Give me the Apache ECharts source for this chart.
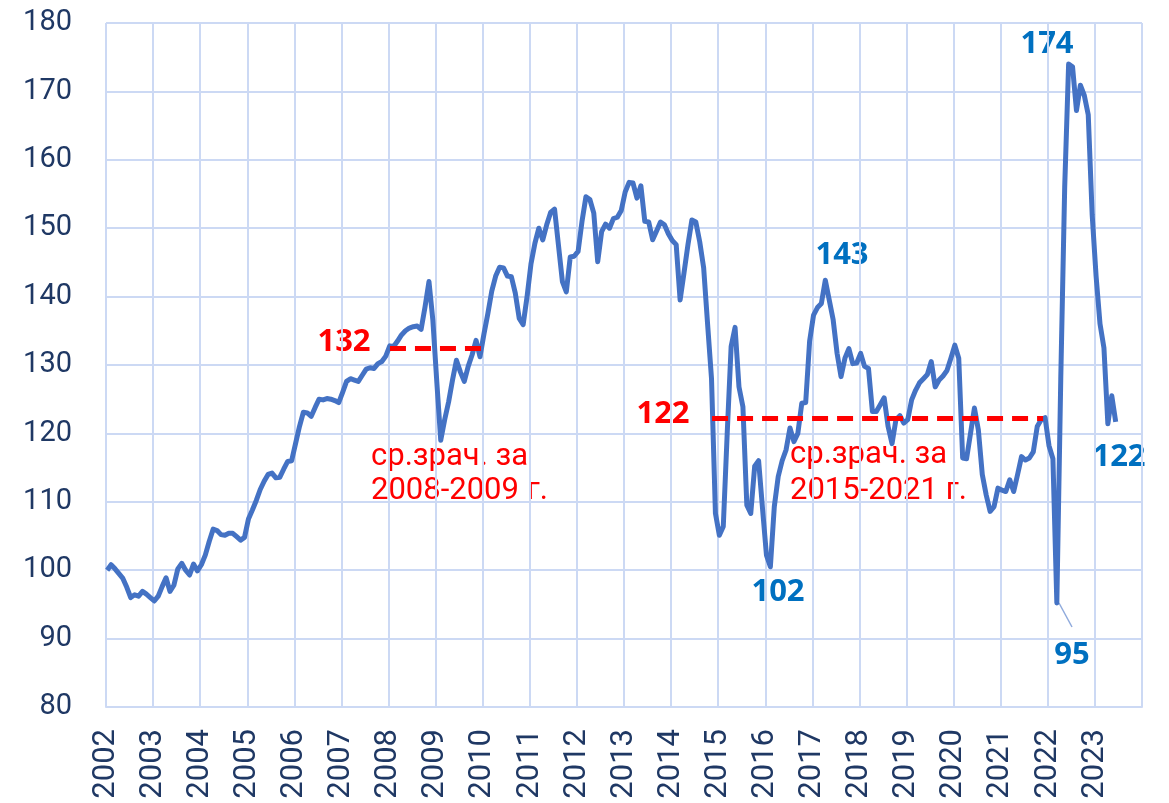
<!DOCTYPE html>
<html>
<head>
<meta charset="utf-8">
<script src="https://cdn.jsdelivr.net/npm/echarts@6/dist/echarts.min.js"></script>
<style>
  html, body { margin: 0; padding: 0; background: #fff; }
  #main { width: 1169px; height: 803px; }
</style>
</head>
<body>
<div id="main"></div>
<script>
var chartDom = document.getElementById("main");
var myChart = echarts.init(chartDom);
var option;

// monthly index, Jan 2002 .. Jun 2023
const startYear = 2002;
const values = [
  // 2002
  100.0, 100.8, 100.2, 99.5, 98.8, 97.5, 96.0, 96.4, 96.2, 96.9, 96.5, 96.0,
  // 2003
  95.5, 96.2, 97.6, 98.9, 96.9, 97.8, 100.2, 101.0, 100.0, 99.3, 100.9, 99.9,
  // 2004
  100.8, 102.2, 104.2, 106.0, 105.8, 105.2, 105.1, 105.4, 105.4, 104.9, 104.4, 104.8,
  // 2005
  107.5, 108.8, 110.2, 111.8, 113.0, 114.0, 114.2, 113.5, 113.6, 114.8, 115.9, 116.0,
  // 2006
  118.5, 121.0, 123.1, 123.0, 122.5, 123.8, 125.0, 124.9, 125.1, 125.0, 124.8, 124.5,
  // 2007
  126.0, 127.6, 128.0, 127.8, 127.6, 128.5, 129.4, 129.6, 129.5, 130.2, 130.5, 131.3,
  // 2008
  132.8, 132.7, 133.5, 134.4, 135.0, 135.4, 135.6, 135.7, 135.2, 138.5, 142.2, 136.5,
  // 2009
  127.5, 119.0, 122.0, 124.6, 127.8, 130.7, 129.0, 127.6, 129.8, 131.5, 133.6, 131.2,
  // 2010
  134.5, 137.5, 140.8, 143.0, 144.3, 144.2, 143.0, 142.9, 140.5, 136.8, 135.9, 140.0,
  // 2011
  144.8, 147.8, 150.0, 148.3, 150.5, 152.3, 152.8, 147.5, 142.2, 140.7, 145.8, 145.9,
  // 2012
  146.6, 151.0, 154.6, 154.2, 152.2, 145.1, 149.5, 150.6, 150.0, 151.4, 151.6, 152.6,
  // 2013
  155.3, 156.7, 156.6, 154.4, 156.2, 151.0, 150.9, 148.3, 149.6, 150.9, 150.5, 149.2,
  // 2014
  148.2, 147.6, 139.5, 143.5, 147.6, 151.2, 150.9, 148.0, 144.2, 136.0, 128.0, 108.3,
  // 2015
  105.1, 106.4, 120.0, 132.7, 135.5, 126.8, 123.9, 109.5, 108.3, 115.2, 116.0, 109.0,
  // 2016
  102.2, 100.5, 109.3, 113.7, 116.0, 117.6, 120.8, 118.8, 120.0, 124.4, 124.5, 133.5,
  // 2017
  137.3, 138.4, 139.0, 142.4, 139.5, 136.6, 131.7, 128.3, 131.0, 132.4, 130.2, 130.3,
  // 2018
  131.7, 129.8, 129.5, 123.2, 123.2, 124.2, 125.2, 121.0, 118.5, 122.0, 122.6, 121.5,
  // 2019
  122.0, 124.9, 126.3, 127.4, 128.0, 128.6, 130.5, 126.8, 127.8, 128.4, 129.2, 131.0,
  // 2020
  132.9, 131.0, 116.4, 116.3, 120.0, 123.7, 120.5, 114.0, 111.0, 108.6, 109.3, 112.0,
  // 2021
  111.7, 111.5, 113.2, 111.5, 114.0, 116.6, 116.1, 116.4, 117.3, 121.0, 122.0, 122.3,
  // 2022
  118.2, 116.3, 95.2, 128.0, 156.0, 174.0, 173.6, 167.2, 170.9, 169.4, 166.6, 152.0,
  // 2023
  143.0, 136.0, 132.5, 121.4, 125.5, 121.7
];

// period averages (dashed lines): [from, to, value]
const avg0809 = [2008.03, 2010.0, 132.4];
const avg1521 = [2014.87, 2021.9, 122.2];

// highlighted extremes: [label, x px, y px]
const peakLabels = [
  ["143", 842, 255],
  ["102", 778, 592],
  ["95", 1072, 655],
  ["174", 1047, 44],
  ["122", 1119, 457]
];

const yTicks = { min: 80, max: 180, step: 10 };
const xTicks = { min: 2002, max: 2024, step: 1 };

const seriesData = values.map(function (v, i) {
  return [startYear + (i + 0.3) / 12, v];
});

const gridColor = "#CCD9F4";
const axisText = "#1F3864";
const fontFam = "Roboto, 'Open Sans', sans-serif";
const boldFam = "'Open Sans', Roboto, sans-serif";

function redBold(text, x, y) {
  return {
    type: "text",
    x: x,
    y: y,
    style: {
      text: text,
      fill: "#FF0000",
      font: "bold 31px " + boldFam,
      align: "center",
      verticalAlign: "middle",
    },
  };
}

function redText(text, x, y) {
  return {
    type: "text",
    x: x,
    y: y,
    style: {
      text: text,
      fill: "#FF0000",
      font: "31px " + fontFam,
      align: "left",
      verticalAlign: "middle",
    },
  };
}

const graphics = [
  redBold("132", 344, 342),
  redBold("122", 663, 414),
  redText("ср.зрач. за", 371, 457),
  redText("2008-2009 г.", 371, 491),
  redText("ср.зрач. за", 790, 455),
  redText("2015-2021 г.", 790, 491),
  {
    type: "line",
    shape: { x1: 1059, y1: 603, x2: 1072, y2: 627 },
    style: { stroke: "#8FAADC", lineWidth: 1.5 },
  },
].concat(
  peakLabels.map(function (p) {
    return {
      type: "text",
      x: p[1],
      y: p[2],
      style: {
        text: p[0],
        fill: "#0070C0",
        font: "bold 31px " + boldFam,
        align: "center",
        verticalAlign: "middle",
      },
    };
  })
);

option = {
  backgroundColor: "#ffffff",
  animation: false,
  grid: {
    left: 106,
    right: 27,
    top: 23,
    bottom: 96,
  },
  xAxis: {
    type: "value",
    min: xTicks.min,
    max: xTicks.max,
    interval: xTicks.step,
    axisLine: { show: true, lineStyle: { color: gridColor, width: 2 } },
    axisTick: { show: false },
    splitLine: { show: true, lineStyle: { color: gridColor, width: 2 } },
    axisLabel: {
      rotate: 90,
      margin: 22,
      color: axisText,
      fontSize: 31,
      fontFamily: fontFam,
      formatter: function (v) {
        return v >= xTicks.max ? "" : String(v);
      },
    },
  },
  yAxis: {
    type: "value",
    min: yTicks.min,
    max: yTicks.max,
    interval: yTicks.step,
    axisLine: { show: false },
    axisTick: { show: false },
    splitLine: { show: true, lineStyle: { color: gridColor, width: 2 } },
    axisLabel: {
      margin: 34,
      color: axisText,
      fontSize: 29,
      fontFamily: fontFam,
    },
  },
  series: [
    {
      type: "line",
      data: seriesData,
      showSymbol: false,
      lineStyle: { color: "#4472C4", width: 5, join: "round" },
      markLine: {
        silent: true,
        symbol: "none",
        label: { show: false },
        lineStyle: { color: "#FF0000", width: 5, type: [16, 9] },
        data: [
          [{ coord: [avg0809[0], avg0809[2]] }, { coord: [avg0809[1], avg0809[2]] }],
          [{ coord: [avg1521[0], avg1521[2]] }, { coord: [avg1521[1], avg1521[2]] }],
        ],
      },
    },
  ],
  graphic: graphics,
};

option && myChart.setOption(option);
</script>
</body>
</html>
